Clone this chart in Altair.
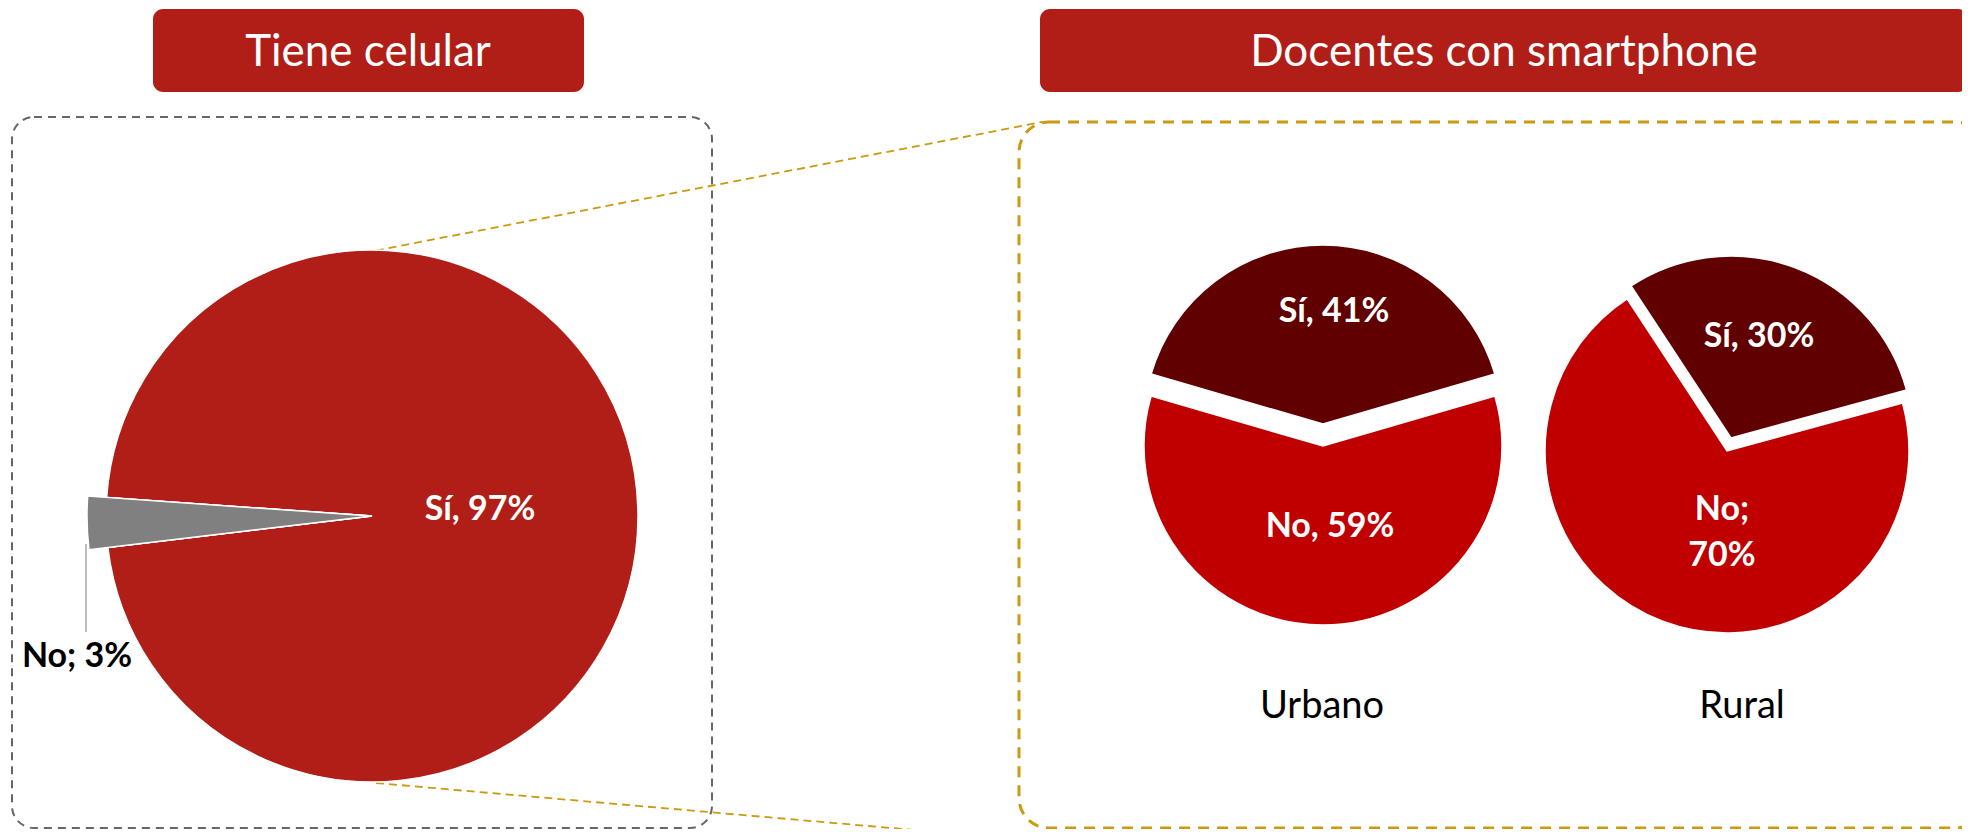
import math
import altair as alt
import pandas as pd

# ---------------- data ----------------
big_cats = ["Sí", "No"]
big_vals = [97, 3]
small_cats = ["Sí", "No"]
urbano_vals = [41, 59]
rural_vals = [30, 70]
panel_titles = ["Tiene celular", "Docentes con smartphone"]
area_names = ["Urbano", "Rural"]
big_labels = ["Sí, 97%", "No; 3%"]
urbano_labels = ["Sí, 41%", "No, 59%"]
rural_labels = ["Sí, 30%", "No;", "70%"]

# ---------------- style / layout ----------------
W, H = 1954, 821
OFF = 8  # page margin
FONT = "Lato"
RED = "#B01E17"
DARK = "#600000"
BRIGHT = "#C00000"
GRAY = "#808080"
GOLD = "#C99A12"
BOXGRAY = "#666666"


def px(v):
    return v - OFF


def pie_df(cats, vals):
    return pd.DataFrame({"cat": cats, "value": vals, "ord": list(range(len(cats)))})


def pie_layer(df, cx, cy, r, start_deg, colors, show):
    a = math.radians(start_deg)
    total = float(df["value"].sum())
    return alt.Chart(df).mark_arc(radius=r, stroke="white", strokeWidth=1.5).encode(
        theta=alt.Theta("value:Q", stack=True,
                        scale=alt.Scale(domain=[0, total], range=[a, a + 2 * math.pi])),
        color=alt.Color("cat:N", scale=alt.Scale(domain=list(df["cat"]), range=colors), legend=None),
        detail="cat:N",
        order=alt.Order("ord:Q"),
        opacity=alt.condition(alt.FieldOneOfPredicate(field="cat", oneOf=show),
                              alt.value(1), alt.value(0)),
        x=alt.value(px(cx)),
        y=alt.value(px(cy)),
    )


def text_layer(txt, x, y, size, color, weight="normal"):
    return alt.Chart(pd.DataFrame({"t": [txt]})).mark_text(
        align="center", baseline="alphabetic", font=FONT, fontSize=size,
        fontWeight=weight, color=color,
    ).encode(text="t:N", x=alt.value(px(x)), y=alt.value(px(y)))


def rect_layer(x1, y1, x2, y2, **props):
    return alt.Chart(pd.DataFrame({"k": [0]})).mark_rect(**props).encode(
        x=alt.value(px(x1)), x2=alt.value(px(x2)),
        y=alt.value(px(y1)), y2=alt.value(px(y2)),
    )


def rule_layer(x1, y1, x2, y2, **props):
    return alt.Chart(pd.DataFrame({"k": [0]})).mark_rule(**props).encode(
        x=alt.value(px(x1)), x2=alt.value(px(x2)),
        y=alt.value(px(y1)), y2=alt.value(px(y2)),
    )


layers = []

# title boxes
layers.append(rect_layer(153, 9, 584, 92, fill=RED, cornerRadius=10))
layers.append(rect_layer(1040, 9, 1968, 92, fill=RED, cornerRadius=10))
layers.append(text_layer(panel_titles[0], 368, 66, 44, "white"))
layers.append(text_layer(panel_titles[1], 1504, 66, 44, "white"))

# dashed frames
layers.append(rect_layer(12, 117, 712, 828, fill="transparent", stroke=BOXGRAY,
                         strokeWidth=2, strokeDash=[8, 6], cornerRadius=22))
layers.append(rect_layer(1019, 122, 1986, 828, fill="transparent", stroke=GOLD,
                         strokeWidth=3, strokeDash=[11, 8], cornerRadius=30))

# connectors
layers.append(rule_layer(363, 253, 1042, 122, color=GOLD, strokeWidth=1.8, strokeDash=[8, 5]))
layers.append(rule_layer(376, 783, 1040, 841, color=GOLD, strokeWidth=1.8, strokeDash=[8, 5]))

# big pie
big = pie_df(big_cats, big_vals)
layers.append(pie_layer(big, 372, 516, 266, 274.0, [RED, GRAY], ["Sí", "No"]))
layers.append(pie_layer(big, 372, 516, 285, 274.0, [RED, GRAY], ["No"]))
layers.append(rule_layer(86, 544, 86, 632, color="#A6A6A6", strokeWidth=1.5))
layers.append(text_layer(big_labels[0], 480, 520, 34, "white", "bold"))
layers.append(text_layer(big_labels[1], 77, 667, 34, "black", "bold"))

# urbano pie
urb = pie_df(small_cats, urbano_vals)
layers.append(pie_layer(urb, 1323, 446, 179, -73.8, [DARK, BRIGHT], ["No"]))
layers.append(pie_layer(urb, 1323, 424, 179, -73.8, [DARK, BRIGHT], ["Sí"]))
layers.append(text_layer(urbano_labels[0], 1334, 322, 34, "white", "bold"))
layers.append(text_layer(urbano_labels[1], 1330, 537, 34, "white", "bold"))
layers.append(text_layer(area_names[0], 1322, 718, 38, "black"))

# rural pie
rur = pie_df(small_cats, rural_vals)
layers.append(pie_layer(rur, 1727, 451, 182, -33.3, [DARK, BRIGHT], ["No"]))
layers.append(pie_layer(rur, 1731, 438, 182, -33.3, [DARK, BRIGHT], ["Sí"]))
layers.append(text_layer(rural_labels[0], 1759, 347, 34, "white", "bold"))
layers.append(text_layer(rural_labels[1], 1722, 520, 34, "white", "bold"))
layers.append(text_layer(rural_labels[2], 1722, 566, 34, "white", "bold"))
layers.append(text_layer(area_names[1], 1742, 718, 38, "black"))

chart = alt.layer(*layers).resolve_scale(
    theta="independent", color="independent"
).properties(
    width=W, height=H, padding=0, autosize=alt.AutoSizeParams(type="none"),
    background="white",
).configure_view(stroke=None)

chart.save("out.html", embed_options={"renderer": "svg", "actions": False})
